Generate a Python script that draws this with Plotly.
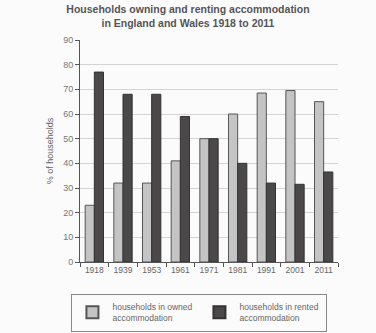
import plotly.graph_objects as go

years = ["1918", "1939", "1953", "1961", "1971", "1981", "1991", "2001", "2011"]
owned = [23, 32, 32, 41, 50, 60, 68.5, 69.5, 65]
rented = [77, 68, 68, 59, 50, 40, 32, 31.5, 36.5]

fig = go.Figure()
fig.add_trace(go.Bar(
    x=years, y=owned, name="households in owned<br>accommodation",
    marker=dict(color="#c4c4c4", line=dict(color="#555555", width=1)),
))
fig.add_trace(go.Bar(
    x=years, y=rented, name="households in rented<br>accommodation",
    marker=dict(color="#4a4848", line=dict(color="#333333", width=1)),
))

fig.update_layout(
    width=376, height=333,
    margin=dict(l=80, r=38, t=40, b=71),
    paper_bgcolor="#fbfbfb", plot_bgcolor="#fbfbfb",
    barmode="group", bargap=0.36, bargroupgap=0.0,
    font=dict(family="Liberation Sans, Arial, sans-serif", color="#666666", size=9),
    title=dict(
        text="<b>Households owning and renting accommodation<br>in England and Wales 1918 to 2011</b>",
        x=0.5, xanchor="center", yref="container", y=0.96, yanchor="top",
        font=dict(size=10.5, color="#555555"),
    ),
    xaxis=dict(
        showline=True, linecolor="#555555", linewidth=1,
        ticks="outside", tickson="boundaries", ticklen=4, tickcolor="#555555",
        tickangle=0,
        tickfont=dict(size=8.5, color="#666666"),
    ),
    yaxis=dict(
        range=[0, 90], dtick=10,
        showline=True, linecolor="#555555", linewidth=1,
        ticks="outside", ticklen=4, tickcolor="#555555",
        showgrid=True, gridcolor="#d4d4d4", gridwidth=1,
        zeroline=False,
        tickfont=dict(size=9, color="#777777"),
        title=dict(text="% of households", font=dict(size=9, color="#666666"), standoff=8),
    ),
    legend=dict(
        orientation="h", xref="container", x=0.19, xanchor="left",
        yref="container", y=0.118, yanchor="top",
        bordercolor="#888888", borderwidth=1, bgcolor="#fbfbfb",
        font=dict(size=8.5, color="#666666"),
        itemsizing="constant", itemwidth=30, tracegroupgap=0,
        entrywidth=82, entrywidthmode="pixels",
    ),
)

fig.write_html("out.html")
